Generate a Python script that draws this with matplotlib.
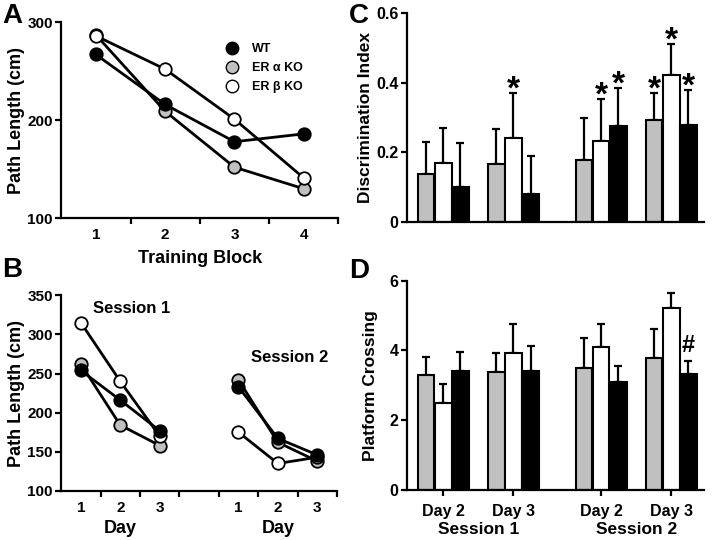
"""
4 パネル図 (A: 訓練ブロック別 path length, B: セッション別, C: discrimination index,
D: platform crossing) を再現して out.png に保存。
"""
import matplotlib
matplotlib.use("Agg")
import matplotlib.pyplot as plt
import matplotlib.transforms as mtransforms
from matplotlib.lines import Line2D
import numpy as np

plt.rcParams["font.family"] = ["Liberation Sans", "DejaVu Sans"]
plt.rcParams["font.weight"] = "bold"

GRAY = "#c0c0c0"

# --- A: training block ---
blocks = [1, 2, 3, 4]
a_wt = [267, 216, 178, 186]
a_alpha = [287, 209, 152, 130]
a_beta = [286, 252, 201, 141]

# --- B: session 1 / session 2 (day 1-3) ---
days = [1, 2, 3]
b_s1_wt = [254, 216, 177]
b_s1_alpha = [262, 184, 158]
b_s1_beta = [315, 240, 170]
b_s2_wt = [233, 167, 146]
b_s2_alpha = [242, 162, 138]
b_s2_beta = [175, 135, 143]

# --- C: discrimination index (gray=ERaKO, white=ERbKO, black=WT) ---
c_alpha = [0.139, 0.167, 0.179, 0.292]
c_alpha_err = [0.091, 0.101, 0.120, 0.078]
c_beta = [0.169, 0.241, 0.232, 0.421]
c_beta_err = [0.101, 0.129, 0.122, 0.091]
c_wt = [0.100, 0.079, 0.275, 0.278]
c_wt_err = [0.128, 0.111, 0.110, 0.100]
# 星印 (group index, bar index 0=gray 1=white 2=black)
c_stars = [(1, 1), (2, 1), (2, 2), (3, 0), (3, 1), (3, 2)]

# --- D: platform crossing ---
d_alpha = [3.30, 3.39, 3.49, 3.79]
d_alpha_err = [0.52, 0.53, 0.86, 0.84]
d_beta = [2.50, 3.92, 4.09, 5.21]
d_beta_err = [0.54, 0.83, 0.67, 0.43]
d_wt = [3.42, 3.42, 3.10, 3.31]
d_wt_err = [0.54, 0.72, 0.46, 0.40]

day_labels = ["Day 2", "Day 3", "Day 2", "Day 3"]
session_labels = ["Session 1", "Session 2"]

group_x = np.array([1.0, 2.0, 3.25, 4.25])
bar_w = 0.245

fig = plt.figure(figsize=(7.2, 5.4), dpi=100)
axA = fig.add_axes([0.085, 0.596, 0.385, 0.363])
axB = fig.add_axes([0.085, 0.091, 0.383, 0.362])
axC = fig.add_axes([0.565, 0.589, 0.413, 0.387])
axD = fig.add_axes([0.565, 0.093, 0.413, 0.387])


def style_axis(ax, size=11):
    for s in ("top", "right"):
        ax.spines[s].set_visible(False)
    for s in ("left", "bottom"):
        ax.spines[s].set_linewidth(1.6)
    ax.tick_params(axis="both", which="both", width=1.6, labelsize=size)
    ax.tick_params(axis="both", which="major", length=4)
    ax.tick_params(axis="y", pad=2)
    labs = (ax.get_xticklabels() + ax.get_yticklabels()
            + ax.get_xticklabels(minor=True))
    for lab in labs:
        lab.set_fontweight("bold")


def line(ax, x, y, face):
    ax.plot(x, y, "-o", color="black", lw=2, mfc=face, mec="black",
            mew=1.3, ms=9, clip_on=False)


# A
line(axA, blocks, a_alpha, GRAY)
line(axA, blocks, a_wt, "black")
line(axA, blocks, a_beta, "white")
axA.set_xlim(0.5, 4.5)
axA.set_ylim(100, 300)
axA.set_yticks([100, 200, 300])
axA.set_xticks([1.5, 2.5, 3.5, 4.5])
axA.set_xticklabels([])
axA.set_xticks(blocks, minor=True)
axA.set_xticklabels([str(b) for b in blocks], minor=True)
axA.tick_params(axis="x", which="minor", length=0, pad=7)
axA.set_xlabel("Training Block", fontsize=13, fontweight="bold", labelpad=6)
axA.set_ylabel("Path Length (cm)", fontsize=13, fontweight="bold", labelpad=2)
style_axis(axA)

handles = [Line2D([], [], ls="none", marker="o", ms=9, mfc=c, mec="black", mew=1)
           for c in ("black", GRAY, "white")]
axA.legend(handles, ["WT", "ER α KO", "ER β KO"], loc="upper left",
           bbox_to_anchor=(0.55, 0.95), frameon=False,
           handletextpad=1.0, labelspacing=0.55, handlelength=1.2,
           prop={"weight": "bold", "size": 9})

# B
s2_x = [d + 4 for d in days]
line(axB, days, b_s1_alpha, GRAY)
line(axB, days, b_s1_beta, "white")
line(axB, days, b_s1_wt, "black")
line(axB, s2_x, b_s2_alpha, GRAY)
line(axB, s2_x, b_s2_beta, "white")
line(axB, s2_x, b_s2_wt, "black")
axB.set_xlim(0.5, 7.5)
axB.set_ylim(100, 350)
axB.set_yticks([100, 150, 200, 250, 300, 350])
axB.set_xticks([1.5, 2.5, 3.5, 4.5, 5.5, 6.5, 7.5])
axB.set_xticklabels([])
axB.set_xticks(days + s2_x, minor=True)
axB.set_xticklabels([str(d) for d in days] * 2, minor=True)
axB.tick_params(axis="x", which="minor", length=0, pad=7)
axB.set_ylabel("Path Length (cm)", fontsize=13, fontweight="bold", labelpad=2)
style_axis(axB)
tB = mtransforms.blended_transform_factory(axB.transData, axB.transAxes)
for xc in (2.0, 6.0):
    axB.text(xc, -0.19, "Day", transform=tB, ha="center", va="center",
             fontsize=13, fontweight="bold")
axB.text(2.3, 333, "Session 1", ha="center", va="center", fontsize=12,
         fontweight="bold")
axB.text(6.3, 271, "Session 2", ha="center", va="center", fontsize=12,
         fontweight="bold")


def bars(ax, vals, errs):
    faces = [GRAY, "white", "black"]
    for k, (v, e, fc) in enumerate(zip(vals, errs, faces)):
        xs = group_x + (k - 1) * bar_w
        ax.bar(xs, v, width=bar_w * 0.97, color=fc, edgecolor="black",
               linewidth=1.5, zorder=2)
        ax.errorbar(xs, v, yerr=[np.zeros(len(v)), e], fmt="none",
                    ecolor="black", elinewidth=1.6, capsize=3, capthick=1.6,
                    zorder=1)


# C
bars(axC, [c_alpha, c_beta, c_wt], [c_alpha_err, c_beta_err, c_wt_err])
c_tops = [np.add(c_alpha, c_alpha_err), np.add(c_beta, c_beta_err),
          np.add(c_wt, c_wt_err)]
for g, k in c_stars:
    axC.annotate("*", (group_x[g] + (k - 1) * bar_w, c_tops[k][g]),
                 xytext=(0, -4), textcoords="offset points", ha="center",
                 va="baseline", fontsize=24, fontweight="bold")
axC.set_xlim(0.48, 4.72)
axC.set_ylim(0, 0.6)
axC.set_yticks([0, 0.2, 0.4, 0.6])
axC.set_yticklabels(["0", "0.2", "0.4", "0.6"])
axC.set_xticks([])
axC.set_ylabel("Discrimination Index", fontsize=12.5, fontweight="bold",
               labelpad=2)
style_axis(axC, 11.5)

# D
bars(axD, [d_alpha, d_beta, d_wt], [d_alpha_err, d_beta_err, d_wt_err])
axD.text(group_x[3] + bar_w, d_wt[3] + d_wt_err[3] + 0.1, "#", ha="center",
         va="bottom", fontsize=17, fontweight="bold")
axD.set_xlim(0.48, 4.72)
axD.set_ylim(0, 6)
axD.set_yticks([0, 2, 4, 6])
axD.set_xticks(group_x)
axD.set_xticklabels(day_labels)
axD.tick_params(axis="x", length=0, pad=6)
axD.set_ylabel("Platform Crossing", fontsize=12.5, fontweight="bold",
               labelpad=8)
style_axis(axD, 11.5)
tD = mtransforms.blended_transform_factory(axD.transData, axD.transAxes)
for i, lab in enumerate(session_labels):
    axD.text(group_x[2 * i:2 * i + 2].mean(), -0.19, lab, transform=tD,
             ha="center", va="center", fontsize=12.5, fontweight="bold")

# パネル記号
for lab, (x, y) in zip("ABCD", [(0.003, 0.995), (0.003, 0.524),
                                (0.485, 0.995), (0.485, 0.522)]):
    fig.text(x, y, lab, fontsize=20, fontweight="bold", va="top", ha="left")

fig.savefig("out.png", dpi=100)
